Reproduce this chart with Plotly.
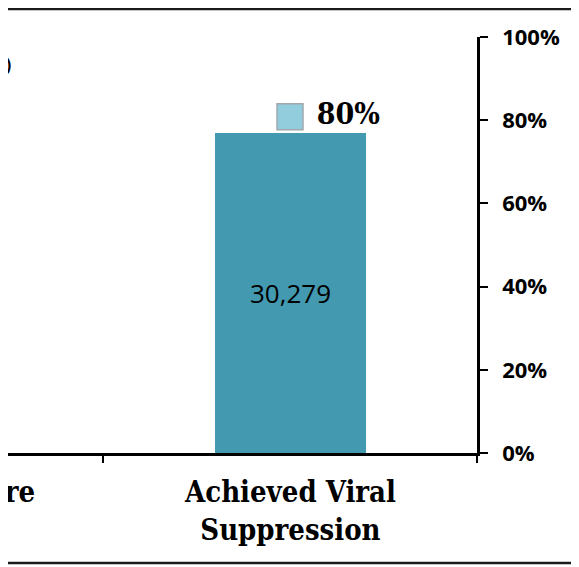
import plotly.graph_objects as go

categories = ["Retained in Care", "Achieved Viral Suppression"]
category_labels = ["Retained in Care", "Achieved Viral<br>Suppression"]
counts = [None, 30279]
count_labels = ["", "30,279"]
percents = [None, 0.808]
percent_labels = ["", "80%"]
y2_ticks = [0, 0.2, 0.4, 0.6, 0.8, 1.0]
y2_ticktext = ["0%", "20%", "40%", "60%", "80%", "100%"]

# page has an 8px body margin, so the figure is sized to the remaining area
W, H = 571, 559
L, R = 0, 469          # plot area pixel extents (figure coords)
T, B = 29, 445
x_right = 1.5
px_per_cat = 374.0
x_left = x_right - (R - L) / px_per_cat

SERIF = "DejaVu Serif Condensed, DejaVu Serif, Liberation Serif"

fig = go.Figure()
fig.add_trace(go.Bar(
    x=[1], y=[counts[1]], width=151 / px_per_cat,
    marker=dict(color="#4399AF", line=dict(width=0)),
    text=[count_labels[1]], textposition="inside", insidetextanchor="middle",
    textfont=dict(family="Open Sans", size=26, color="black"),
    showlegend=False, yaxis="y",
))
fig.add_trace(go.Scatter(
    x=[1], y=[percents[1]], mode="markers+text",
    marker=dict(symbol="square", size=26, color="#92CDDD",
                line=dict(color="#A0A8AC", width=1.5)),
    text=[" " + percent_labels[1]], textposition="middle right",
    textfont=dict(family=SERIF, size=30, color="black", weight="bold"),
    showlegend=False, yaxis="y2", cliponaxis=False,
))


def px_to_paper_x(px):
    return (px - L) / (R - L)


def px_to_paper_y(py):
    return (B - py) / (B - T)


annotations = []
label_y = [484, 503]
label_dx = [-4, 0]
for i, lab in enumerate(category_labels):
    center_px = R - (1.5 - i) * px_per_cat + label_dx[i]
    annotations.append(dict(
        x=px_to_paper_x(center_px), y=px_to_paper_y(label_y[i]), xref="paper", yref="paper",
        xanchor="center", yanchor="middle", text=lab, showarrow=False,
        font=dict(family=SERIF, size=29, color="black", weight="bold"),
        align="center",
    ))
# left-side label, mostly outside the visible page
annotations.append(dict(
    x=px_to_paper_x(6), y=px_to_paper_y(56), xref="paper", yref="paper",
    xanchor="right", yanchor="middle", text="(N)", showarrow=False,
    font=dict(family="Open Sans", size=17, color="black", weight="bold"),
))

shapes = [
    dict(type="line", xref="paper", yref="paper",
         x0=px_to_paper_x(-50), x1=px_to_paper_x(W), y0=px_to_paper_y(1), y1=px_to_paper_y(1),
         line=dict(color="#1a1a1a", width=2.5)),
    dict(type="line", xref="paper", yref="paper",
         x0=px_to_paper_x(-50), x1=px_to_paper_x(W), y0=px_to_paper_y(555), y1=px_to_paper_y(555),
         line=dict(color="#1a1a1a", width=2.5)),
    dict(type="line", xref="paper", yref="paper",
         x0=px_to_paper_x(570), x1=px_to_paper_x(570), y0=px_to_paper_y(1), y1=px_to_paper_y(555),
         line=dict(color="#666666", width=1.5)),
]

fig.update_layout(
    width=W, height=H,
    margin=dict(l=L, r=W - R, t=T, b=H - B, pad=0),
    paper_bgcolor="white", plot_bgcolor="white",
    bargap=0,
    xaxis=dict(range=[x_left, x_right], tickvals=[0.5, 1.5], ticktext=["", ""],
               ticks="outside", ticklen=7, tickwidth=2, tickcolor="black",
               showline=True, linecolor="black", linewidth=2.5,
               showgrid=False, zeroline=False),
    yaxis=dict(range=[0, 39400], visible=False, showgrid=False, zeroline=False),
    yaxis2=dict(range=[0, 1], overlaying="y", side="right",
                tickvals=y2_ticks, ticktext=y2_ticktext,
                ticks="outside", ticklen=8, tickwidth=2, tickcolor="black",
                ticklabelstandoff=10,
                showline=True, linecolor="black", linewidth=2.5,
                showgrid=False, zeroline=False,
                tickfont=dict(family="Open Sans", size=22, color="black", weight="bold")),
    annotations=annotations,
    shapes=shapes,
)

fig.write_html("out.html")
